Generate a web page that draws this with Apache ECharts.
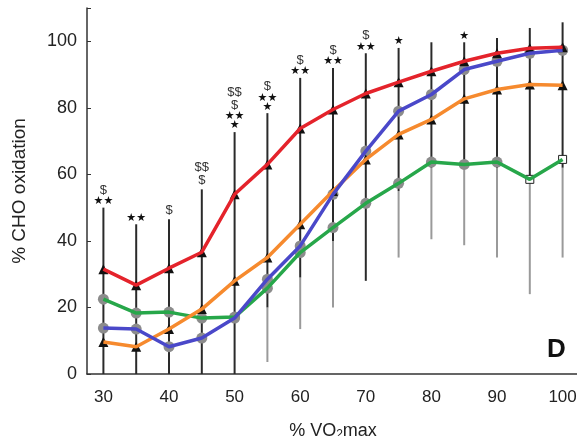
<!DOCTYPE html>
<html>
<head>
<meta charset="utf-8">
<script src="https://cdn.jsdelivr.net/npm/echarts@6/dist/echarts.min.js"></script>
<style>
html,body{margin:0;padding:0;background:#fff;}
#chart{width:577px;height:436px;}
</style>
</head>
<body>
<div id="chart"></div>
<script>
const categories = ['30','35','40','45','50','55','60','65','70','75','80','85','90','95','100'];
const yTicks = [0, 20, 40, 60, 80, 100];
const redValues    = [31.5, 26.7, 31.8, 36.6, 54.0, 63.0, 73.8, 79.5, 84.3, 87.7, 91.0, 94.0, 96.4, 97.9, 98.2];
const blueValues   = [13.8, 13.5, 8.2, 10.8, 16.8, 28.5, 38.5, 54.0, 67.0, 79.0, 84.0, 91.5, 94.0, 96.4, 97.3];
const orangeValues = [9.6, 8.2, 13.5, 19.5, 28.0, 35.0, 45.0, 55.0, 64.5, 72.0, 76.5, 82.7, 85.5, 87.0, 86.8];
const greenValues  = [22.5, 18.3, 18.6, 16.8, 17.1, 25.8, 36.5, 44.0, 51.3, 57.3, 63.7, 63.0, 63.7, 58.5, 64.5];
const errTop       = [50, 45, 46.5, 55.5, 72.7, 78.4, 89, 92, 96.4, 98, 99.7, 99.7, 101, 104, 105.7];
const errSplit     = [0, 0, 0, 0, 0, 20, 29, 40, 28, 55, 62, 62, 62, 58, 62];
const errBottom    = [0, 0, 0, 0, 0, 3.6, 13.5, 20, 28, 35, 40.5, 38.7, 35, 24, 35];
const annotations  = ['$\n**', '**', '$', '$$\n$', '$$\n$\n**\n*', '$\n**\n*', '$\n**', '$\n**', '$\n**', '*', '', '*', '', '', ''];
const openSquareIdx = [13, 14];

const chart = echarts.init(document.getElementById('chart'));

function barSeries(lowArr, highArr, color, z) {
  return {
    type: 'custom', z: z, silent: true,
    data: categories.map((c, i) => [i, lowArr[i], highArr[i]]),
    encode: { x: 0, y: [1, 2] },
    renderItem: function (params, api) {
      const lo = api.value(1), hi = api.value(2);
      if (hi <= lo) return null;
      const p1 = api.coord([api.value(0), lo]);
      const p2 = api.coord([api.value(0), hi]);
      return { type: 'line', shape: { x1: p1[0], y1: p1[1], x2: p2[0], y2: p2[1] },
               style: { stroke: color, lineWidth: 2 } };
    }
  };
}

function markerSeries(values, symbol, color, size, lineColor, dashed) {
  return {
    type: 'line', z: 2, data: values, symbol: symbol, symbolSize: size,
    itemStyle: { color: color },
    lineStyle: { color: lineColor, width: 1.2, type: dashed ? 'dashed' : 'solid' },
    animation: false
  };
}
function colorLine(values, color) {
  return { type: 'line', z: 3, data: values, showSymbol: false, symbol: 'none',
           lineStyle: { color: color, width: 3.5 }, animation: false };
}

const greenMarkers = greenValues.map((v, i) => openSquareIdx.includes(i)
  ? { value: v, symbol: 'rect', symbolSize: 8, itemStyle: { color: '#fff', borderColor: '#222', borderWidth: 1 } }
  : v);

function annotText(txt) {
  return txt.split('\n').map(line => line.indexOf('$') >= 0
    ? '{d|' + line + '}'
    : '{s|' + line.replace(/\*/g, '\u2605') + '}').join('\n');
}

chart.setOption({
  animation: false,
  grid: { left: 87, width: 492, top: 8, height: 366, outerBoundsMode: 'none', containLabel: false },
  xAxis: {
    type: 'category', data: categories, boundaryGap: true,
    axisLine: { lineStyle: { color: '#333', width: 1.5 } },
    axisTick: { alignWithLabel: true, inside: true, length: 4, lineStyle: { color: '#333' } },
    axisLabel: { color: '#222', fontSize: 17, fontFamily: 'Liberation Sans', margin: 15 },
    name: '{n|% VO}{sub|2}{n|max}', nameLocation: 'middle', nameGap: 47,
    nameTextStyle: { rich: {
      n: { fontSize: 18, color: '#222', fontFamily: 'Liberation Sans' },
      sub: { fontSize: 12, color: '#222', fontFamily: 'Liberation Sans', verticalAlign: 'bottom', padding: [8, 0, 0, 0] }
    } }
  },
  yAxis: {
    type: 'value', min: 0, max: 110, interval: 20,
    axisLine: { show: true, lineStyle: { color: '#333', width: 1.5 } },
    axisTick: { show: true, inside: true, length: 4, lineStyle: { color: '#333' } },
    splitLine: { show: false },
    axisLabel: { color: '#222', fontSize: 18, fontFamily: 'Liberation Sans', margin: 10,
                 formatter: v => yTicks.includes(v) ? String(v) : '' },
    name: '% CHO oxidation', nameLocation: 'middle', nameGap: 58, nameRotate: 90,
    nameTextStyle: { fontSize: 19, color: '#222', fontFamily: 'Liberation Sans' }
  },
  graphic: [{
    type: 'text', left: 547, top: 337,
    style: { text: 'D', font: 'bold 26px "Liberation Sans"', fill: '#111' }
  }],
  series: [
    barSeries(errBottom, errSplit, '#9a9a9a', 1),
    barSeries(errSplit, errTop, '#2a2a2a', 1),
    markerSeries(greenMarkers, 'circle', '#8c8c8c', 11, '#8c8c8c', false),
    markerSeries(blueValues, 'circle', '#8c8c8c', 11, '#8c8c8c', false),
    markerSeries(orangeValues, 'triangle', '#111', 10, '#111', true),
    markerSeries(redValues, 'triangle', '#111', 10, '#111', false),
    colorLine(greenValues, '#27a74a'),
    colorLine(orangeValues, '#f68a2e'),
    colorLine(blueValues, '#4a48c9'),
    colorLine(redValues, '#e4232b'),
    {
      type: 'custom', z: 5, silent: true,
      data: categories.map((c, i) => [i, errTop[i]]),
      encode: { x: 0, y: 1 },
      renderItem: function (params, api) {
        const txt = annotations[params.dataIndex];
        if (!txt) return null;
        const p = api.coord([api.value(0), api.value(1)]);
        return {
          type: 'text', x: p[0], y: p[1] - 2,
          style: {
            text: annotText(txt), align: 'center', verticalAlign: 'bottom',
            rich: {
              d: { fontSize: 13, lineHeight: 13, fill: '#333', fontFamily: 'Liberation Sans', align: 'center' },
              s: { fontSize: 11, lineHeight: 9, fill: '#111', fontFamily: 'DejaVu Sans', align: 'center' }
            }
          }
        };
      }
    }
  ]
});
</script>
</body>
</html>
